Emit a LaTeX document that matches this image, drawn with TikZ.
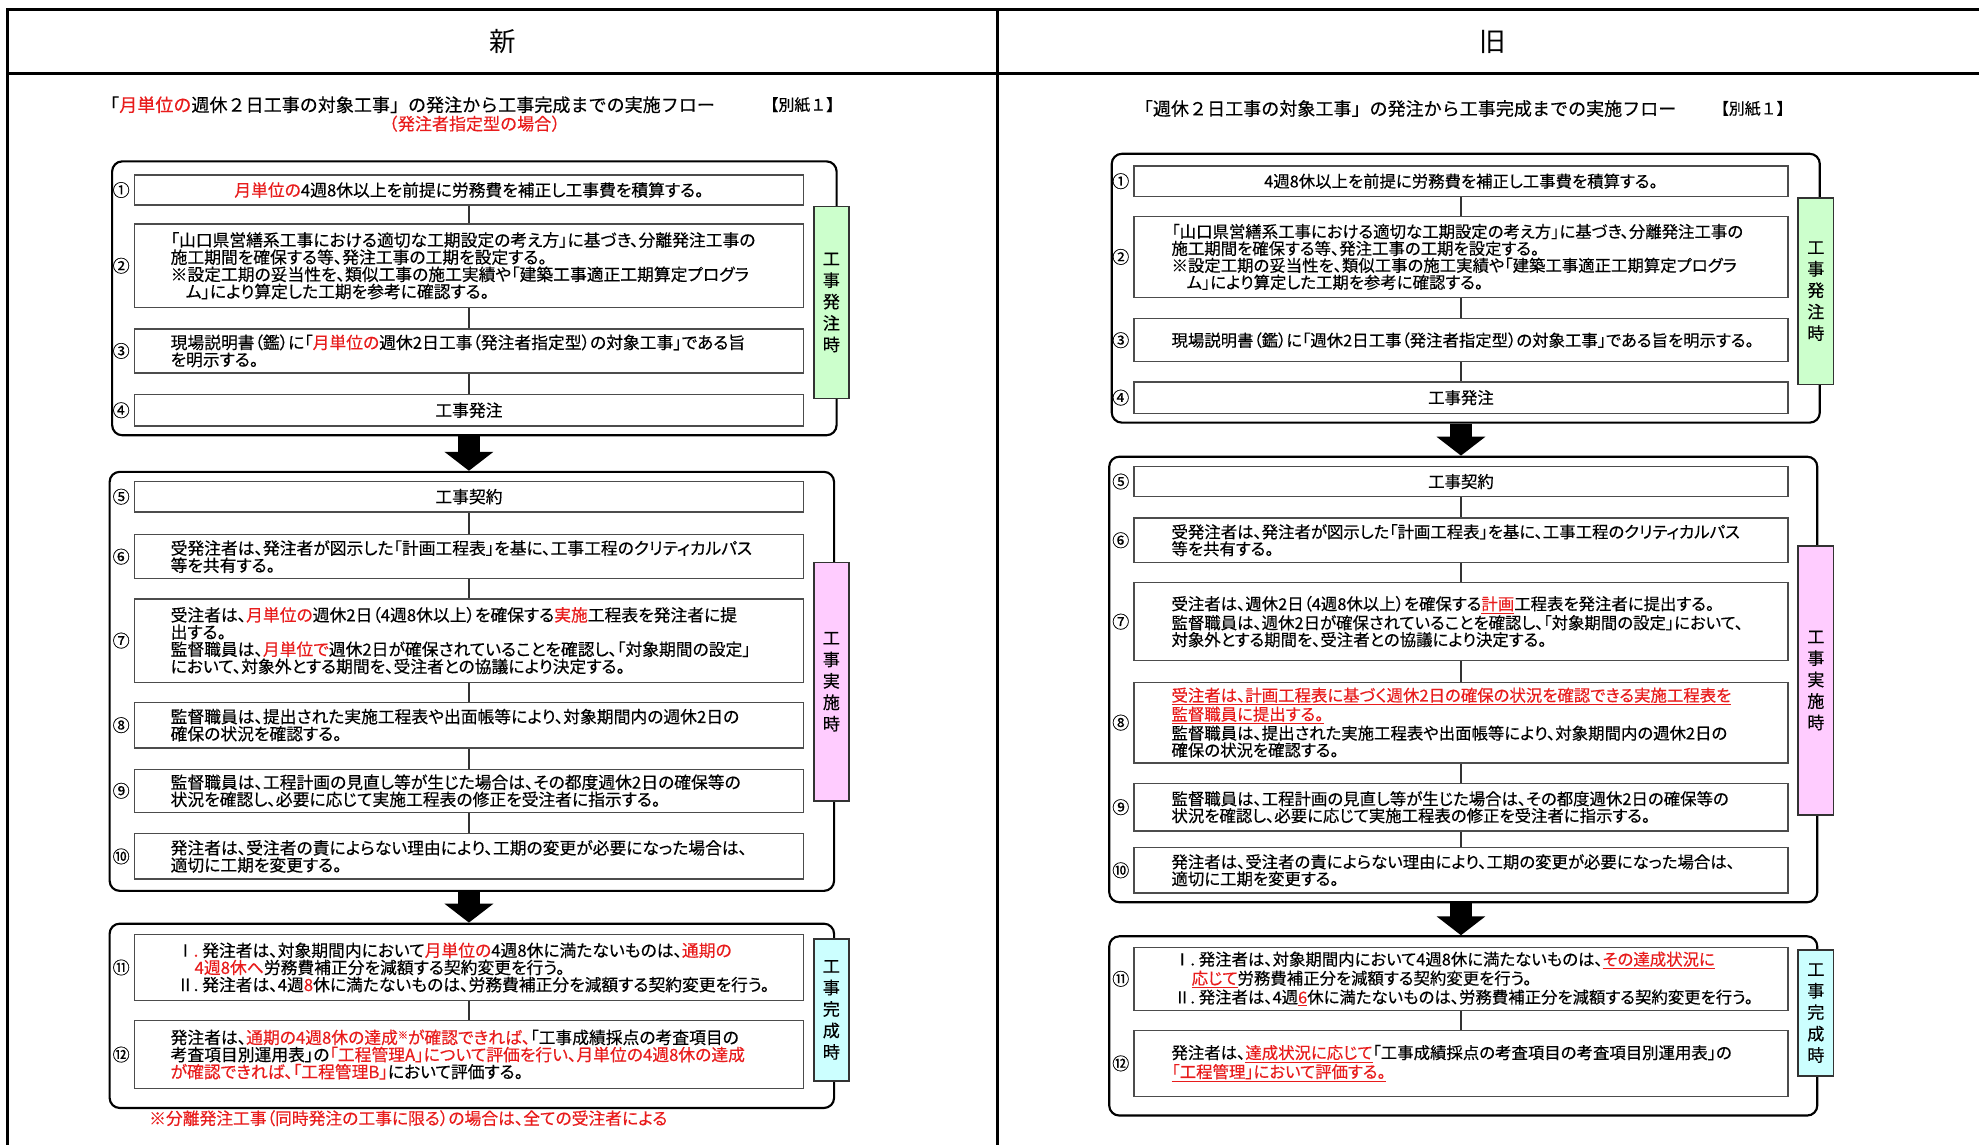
\documentclass[tikz,border=0pt]{standalone}
\usepackage{fontspec}
\setmainfont{Noto Sans CJK JP}[RawFeature=+palt, FakeBold=0.35]
\newfontfamily\ttlfont{Noto Sans CJK JP}[FakeBold=0.35]
\newfontfamily\hdrfont{Noto Sans CJK JP}
\usetikzlibrary{arrows.meta,calc}
\definecolor{jred}{RGB}{232,28,28}
\definecolor{lgreen}{RGB}{204,255,204}
\definecolor{lpink}{RGB}{255,204,255}
\definecolor{lcyan}{RGB}{204,255,255}
\newcommand\fontLbody{\fontsize{13.3}{13.6}\selectfont}
\newcommand\fontRbody{\fontsize{13.0}{13.4}\selectfont}
\newcommand\rd[1]{\textcolor{jred}{#1}}
\newcommand\ru[1]{\textcolor{jred}{\underline{#1}}}
\newcommand\mkbox[6]{%
  \node[box, minimum width=#4pt, minimum height=#5pt] (#1) at (#2,#3) {};
  \node[numst] (#1n) at ([xshift=-10pt]#1.west) {#6};}
\begin{document}
\begin{tikzpicture}[x=1pt,y=-1pt,
  box/.style={draw=black!70, line width=1.1pt, fill=white, inner sep=0pt, anchor=north west},
  frame/.style={draw=black, line width=1.7pt, rounded corners=8pt, inner sep=0pt, anchor=north west},
  txtL/.style={font=\fontLbody, align=left, inner sep=0pt, anchor=west},
  txtR/.style={font=\fontRbody, align=left, inner sep=0pt, anchor=west},
  ctrL/.style={font=\fontLbody, align=center, inner sep=0pt},
  ctrR/.style={font=\fontRbody, align=center, inner sep=0pt},
  numst/.style={font=\fontsize{13.5}{14}\selectfont, inner sep=0pt},
  lab/.style={draw=black!80, line width=1.4pt, minimum width=28pt, align=center,
    font=\fontsize{13.5}{17}\selectfont, inner sep=0pt, anchor=north west},
  conn/.style={draw=black!80, line width=1.2pt},
  bigarrow/.style={draw=black, line width=17pt, -{Triangle[width=38pt,length=15pt]}},
  hdr/.style={draw=black, line width=2.4pt},
  ttl/.style={font=\ttlfont\fontsize{14.3}{15}\selectfont, inner sep=0pt}
]
\useasboundingbox (0,0) rectangle (1568,907);
% header table
\draw[hdr] (1570,7.4) -- (5.8,7.4) -- (5.8,910);
\draw[hdr] (5.8,58.6) -- (1570,58.6);
\draw[hdr] (790,7.4) -- (790,910);
\node[font=\hdrfont\fontsize{21}{22}\selectfont, inner sep=0pt] (hnew) at (398,33) {新};
\node[font=\hdrfont\fontsize{21}{22}\selectfont, inner sep=0pt] (hold) at (1183,33) {旧};

% ================= LEFT (new) =================
\node[ttl, anchor=west] (Ltitle) at (80,83) {「\rd{月単位の}週休２日工事の対象工事」の発注から工事完成までの実施フロー};
\node[ttl, anchor=west, font=\ttlfont\fontsize{12.6}{14}\selectfont] (Lbessi) at (604,83) {【別紙１】};
\node[ttl, font=\ttlfont\fontsize{13.5}{14}\selectfont, text=jred] (Lsub) at (376,98) {（発注者指定型の場合）};

\node[frame, minimum width=574pt, minimum height=217pt] (LF1) at (88,127) {};
\node[frame, minimum width=574pt, minimum height=332pt] (LF2) at (86,373) {};
\node[frame, minimum width=574pt, minimum height=146pt] (LF3) at (86,731) {};

\mkbox{L1}{106}{138}{530}{24}{①}
\mkbox{L2}{106}{177}{530}{66}{②}
\mkbox{L3}{106}{260}{530}{35}{③}
\mkbox{L4}{106}{312}{530}{25}{④}
\mkbox{L5}{106}{381}{530}{24}{⑤}
\mkbox{L6}{106}{423}{530}{35}{⑥}
\mkbox{L7}{106}{474}{530}{66}{⑦}
\mkbox{L8}{106}{556}{530}{36}{⑧}
\mkbox{L9}{106}{609}{530}{34}{⑨}
\mkbox{L10}{106}{660}{530}{36}{⑩}
\mkbox{L11}{106}{740}{530}{52}{⑪}
\mkbox{L12}{106}{808}{530}{54}{⑫}

\node[ctrL] (L1t) at (L1.center) {\rd{月単位の}4週8休以上を前提に労務費を補正し工事費を積算する。};
\node[txtL] (L2t) at ([xshift=29pt]L2.west) {「山口県営繕系工事における適切な工期設定の考え方」に基づき、分離発注工事の\\施工期間を確保する等、発注工事の工期を設定する。\\※設定工期の妥当性を、類似工事の施工実績や「建築工事適正工期算定プログラ\\\hspace*{12pt}ム」により算定した工期を参考に確認する。};
\node[txtL] (L3t) at ([xshift=29pt]L3.west) {現場説明書（鑑）に「\rd{月単位の}週休2日工事（発注者指定型）の対象工事」である旨\\を明示する。};
\node[ctrL] (L4t) at (L4.center) {工事発注};
\node[ctrL] (L5t) at (L5.center) {工事契約};
\node[txtL] (L6t) at ([xshift=29pt]L6.west) {受発注者は、発注者が図示した「計画工程表」を基に、工事工程のクリティカルパス\\等を共有する。};
\node[txtL] (L7t) at ([xshift=29pt]L7.west) {受注者は、\rd{月単位の}週休2日（4週8休以上）を確保する\rd{実施}工程表を発注者に提\\出する。\\監督職員は、\rd{月単位で}週休2日が確保されていることを確認し、「対象期間の設定」\\において、対象外とする期間を、受注者との協議により決定する。};
\node[txtL] (L8t) at ([xshift=29pt]L8.west) {監督職員は、提出された実施工程表や出面帳等により、対象期間内の週休2日の\\確保の状況を確認する。};
\node[txtL] (L9t) at ([xshift=29pt]L9.west) {監督職員は、工程計画の見直し等が生じた場合は、その都度週休2日の確保等の\\状況を確認し、必要に応じて実施工程表の修正を受注者に指示する。};
\node[txtL] (L10t) at ([xshift=29pt]L10.west) {発注者は、受注者の責によらない理由により、工期の変更が必要になった場合は、\\適切に工期を変更する。};
\node[txtL] (L11t) at ([xshift=34pt]L11.west) {Ⅰ\rd{.}\hspace{3pt}発注者は、対象期間内において\rd{月単位の}4週8休に満たないものは、\rd{通期の}\\\hspace*{14pt}\rd{4週8休へ}労務費補正分を減額する契約変更を行う。\\Ⅱ.\hspace{3pt}発注者は、4週\rd{8}休に満たないものは、労務費補正分を減額する契約変更を行う。};
\node[txtL] (L12t) at ([xshift=29pt]L12.west) {発注者は、\rd{通期の4週8休の達成\raisebox{4pt}{\fontsize{8}{8}\selectfont ※}が確認できれば、}「工事成績採点の考査項目の\\考査項目別運用表」の\rd{「工程管理A」について評価を行い、月単位の4週8休の達成}\\\rd{が確認できれば、「工程管理B」}において評価する。};

\draw[conn] (L1.south) -- (L2.north);
\draw[conn] (L2.south) -- (L3.north);
\draw[conn] (L3.south) -- (L4.north);
\draw[conn] (L5.south) -- (L6.north);
\draw[conn] (L6.south) -- (L7.north);
\draw[conn] (L7.south) -- (L8.north);
\draw[conn] (L8.south) -- (L9.north);
\draw[conn] (L9.south) -- (L10.north);
\draw[conn] (L11.south) -- (L12.north);

\node[lab, fill=lgreen, minimum height=152pt] (LG) at (644,163) {工\\事\\発\\注\\時};
\node[lab, fill=lpink, minimum height=189pt] (LP) at (644,445) {工\\事\\実\\施\\時};
\node[lab, fill=lcyan, minimum height=113pt] (LC) at (644,743) {工\\事\\完\\成\\時};

\draw[bigarrow] (L4.south |- LF1.south) -- (L4.south |- LF2.north);
\draw[bigarrow] (L10.south |- LF2.south) -- (L10.south |- LF3.north);

\node[font=\fontLbody, text=jred, inner sep=0pt, anchor=west] (Lnote) at (118,886) {※分離発注工事（同時発注の工事に限る）の場合は、全ての受注者による};

% ================= RIGHT (old) =================
\node[ttl, anchor=west] (Rtitle) at (899,86) {「週休２日工事の対象工事」の発注から工事完成までの実施フロー};
\node[ttl, anchor=west, font=\ttlfont\fontsize{12.6}{14}\selectfont] (Rbessi) at (1357,86) {【別紙１】};

\node[frame, minimum width=561pt, minimum height=213pt] (RF1) at (880,121) {};
\node[frame, minimum width=561pt, minimum height=353pt] (RF2) at (878,361) {};
\node[frame, minimum width=561pt, minimum height=142pt] (RF3) at (878,741) {};

\mkbox{R1}{898}{131}{518}{24}{①}
\mkbox{R2}{898}{171}{518}{64}{②}
\mkbox{R3}{898}{252}{518}{34}{③}
\mkbox{R4}{898}{302}{518}{25}{④}
\mkbox{R5}{898}{369}{518}{24}{⑤}
\mkbox{R6}{898}{410}{518}{35}{⑥}
\mkbox{R7}{898}{461}{518}{62}{⑦}
\mkbox{R8}{898}{540}{518}{64}{⑧}
\mkbox{R9}{898}{620}{518}{38}{⑨}
\mkbox{R10}{898}{671}{518}{36}{⑩}
\mkbox{R11}{898}{750}{518}{50}{⑪}
\mkbox{R12}{898}{816}{518}{52}{⑫}

\node[ctrR] (R1t) at (R1.center) {4週8休以上を前提に労務費を補正し工事費を積算する。};
\node[txtR] (R2t) at ([xshift=30pt]R2.west) {「山口県営繕系工事における適切な工期設定の考え方」に基づき、分離発注工事の\\施工期間を確保する等、発注工事の工期を設定する。\\※設定工期の妥当性を、類似工事の施工実績や「建築工事適正工期算定プログラ\\\hspace*{12pt}ム」により算定した工期を参考に確認する。};
\node[txtR] (R3t) at ([xshift=30pt]R3.west) {現場説明書（鑑）に「週休2日工事（発注者指定型）の対象工事」である旨を明示する。};
\node[ctrR] (R4t) at (R4.center) {工事発注};
\node[ctrR] (R5t) at (R5.center) {工事契約};
\node[txtR] (R6t) at ([xshift=30pt]R6.west) {受発注者は、発注者が図示した「計画工程表」を基に、工事工程のクリティカルパス\\等を共有する。};
\node[txtR] (R7t) at ([xshift=30pt]R7.west) {受注者は、週休2日（4週8休以上）を確保する\ru{計画}工程表を発注者に提出する。\\監督職員は、週休2日が確保されていることを確認し、「対象期間の設定」において、\\対象外とする期間を、受注者との協議により決定する。};
\node[txtR] (R8t) at ([xshift=30pt]R8.west) {\ru{受注者は、計画工程表に基づく週休2日の確保の状況を確認できる実施工程表を}\\\ru{監督職員に提出する。}\\監督職員は、提出された実施工程表や出面帳等により、対象期間内の週休2日の\\確保の状況を確認する。};
\node[txtR] (R9t) at ([xshift=30pt]R9.west) {監督職員は、工程計画の見直し等が生じた場合は、その都度週休2日の確保等の\\状況を確認し、必要に応じて実施工程表の修正を受注者に指示する。};
\node[txtR] (R10t) at ([xshift=30pt]R10.west) {発注者は、受注者の責によらない理由により、工期の変更が必要になった場合は、\\適切に工期を変更する。};
\node[txtR] (R11t) at ([xshift=32pt]R11.west) {Ⅰ.\hspace{3pt}発注者は、対象期間内において4週8休に満たないものは、\ru{その達成状況に}\\\hspace*{14pt}\ru{応じて}労務費補正分を減額する契約変更を行う。\\Ⅱ.\hspace{3pt}発注者は、4週\ru{6}休に満たないものは、労務費補正分を減額する契約変更を行う。};
\node[txtR] (R12t) at ([xshift=30pt]R12.west) {発注者は、\ru{達成状況に応じて}「工事成績採点の考査項目の考査項目別運用表」の\\\ru{「工程管理」において評価する。}};

\draw[conn] (R1.south) -- (R2.north);
\draw[conn] (R2.south) -- (R3.north);
\draw[conn] (R3.south) -- (R4.north);
\draw[conn] (R5.south) -- (R6.north);
\draw[conn] (R6.south) -- (R7.north);
\draw[conn] (R7.south) -- (R8.north);
\draw[conn] (R8.south) -- (R9.north);
\draw[conn] (R9.south) -- (R10.north);
\draw[conn] (R11.south) -- (R12.north);

\node[lab, fill=lgreen, minimum height=148pt] (RG) at (1424,156) {工\\事\\発\\注\\時};
\node[lab, fill=lpink, minimum height=213pt] (RP) at (1424,432) {工\\事\\実\\施\\時};
\node[lab, fill=lcyan, minimum height=100pt] (RC) at (1424,752) {工\\事\\完\\成\\時};

\draw[bigarrow] (R4.south |- RF1.south) -- (R4.south |- RF2.north);
\draw[bigarrow] (R10.south |- RF2.south) -- (R10.south |- RF3.north);
\end{tikzpicture}
\end{document}
